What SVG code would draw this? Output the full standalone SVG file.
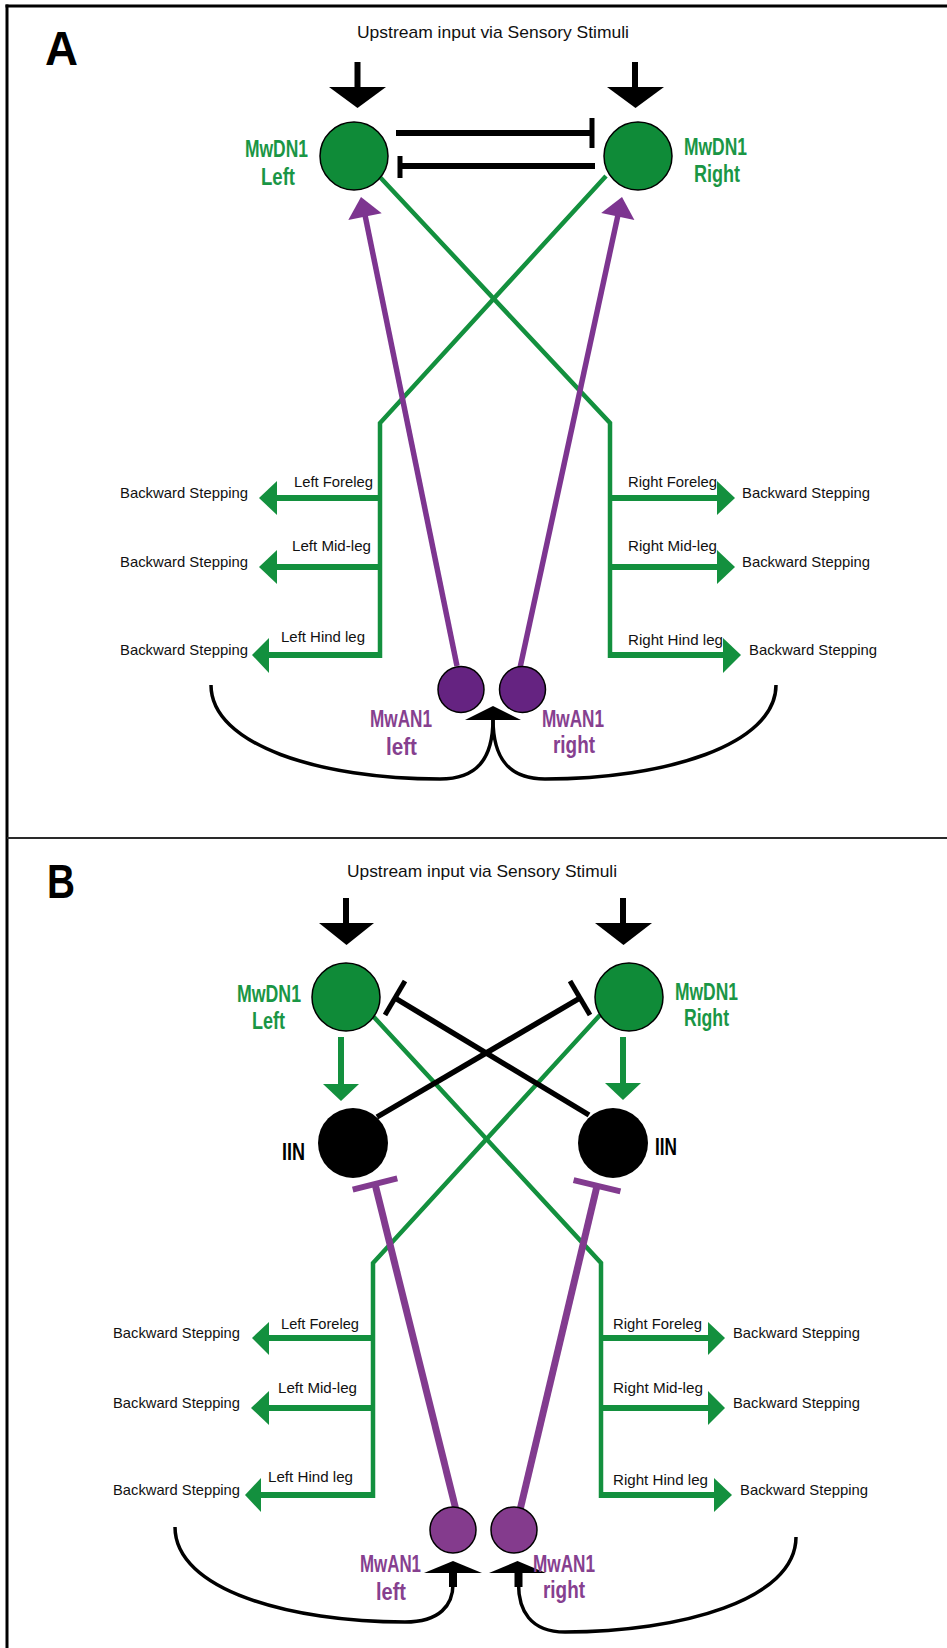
<svg xmlns="http://www.w3.org/2000/svg" width="947" height="1648" viewBox="0 0 947 1648">
<style>
.frame{stroke:#000;stroke-width:3;fill:none}
.div{stroke:#2a2a2a;stroke-width:2;fill:none}
.panel{font-family:"Liberation Sans",Arial,sans-serif;font-weight:bold;font-size:48px;fill:#000}
.title{font-family:"Liberation Sans",Arial,sans-serif;font-size:17px;fill:#111}
.small{font-family:"Liberation Sans",Arial,sans-serif;font-size:15px;fill:#111}
.gl{font-family:"Liberation Sans",Arial,sans-serif;font-weight:bold;font-size:24px;fill:#1a9645}
.pl{font-family:"Liberation Sans",Arial,sans-serif;font-weight:bold;font-size:24px;fill:#86408f}
.il{font-family:"Liberation Sans",Arial,sans-serif;font-weight:bold;font-size:24px;fill:#000}
.gline{stroke:#13903e;stroke-width:4.5;fill:none;stroke-linejoin:miter}
.gshaft{stroke:#13903e;stroke-width:6;fill:none}
.ghead{fill:#13903e}
.blk{fill:#000}
.bline{stroke:#000;stroke-width:6;fill:none}
.bcurve{stroke:#000;stroke-width:3.5;fill:none}
.pA{stroke:#7d3590;stroke-width:5.5;fill:none}
.pB{stroke:#823b8f;stroke-width:7;fill:none}
.pheadA{fill:#7d3590}
.dn{fill:#0f8b38;stroke:#000;stroke-width:1.5}
.anA{fill:#652381;stroke:#000;stroke-width:1.5}
.anB{fill:#843b8d;stroke:#000;stroke-width:1.5}
.iin{fill:#000}
</style>

<!-- frame -->
<g id="frame">
<line class="frame" x1="5.5" y1="6" x2="947" y2="6"/>
<line class="frame" x1="7" y1="4.5" x2="7" y2="1648"/>
<line class="div" x1="7" y1="838" x2="947" y2="838"/>
</g>

<!-- ================= PANEL A ================= -->
<g id="panelA-labels">
<text class="panel" x="45" y="65" textLength="33" lengthAdjust="spacingAndGlyphs">A</text>
<text class="title" x="493" y="38" text-anchor="middle" textLength="272" lengthAdjust="spacingAndGlyphs">Upstream input via Sensory Stimuli</text>
</g>

<g id="connectorsA">
<!-- upstream arrows -->
<rect class="blk" x="354.5" y="62" width="6" height="27"/>
<polygon class="blk" points="329,87 386,87 357.5,108"/>
<rect class="blk" x="632" y="62" width="6" height="27"/>
<polygon class="blk" points="607,87 664,87 635.5,108"/>
<!-- mutual inhibition -->
<line class="bline" x1="396" y1="133" x2="592" y2="133"/>
<line class="bline" x1="592" y1="118" x2="592" y2="148" style="stroke-width:5"/>
<line class="bline" x1="595" y1="166" x2="400" y2="166"/>
<line class="bline" x1="400" y1="156" x2="400" y2="178" style="stroke-width:5"/>
<!-- green projections -->
<path class="gline" d="M378,175 L610,423 L610,658"/>
<path class="gline" d="M606,176 L380,423 L380,658"/>
<!-- left branches -->
<line class="gshaft" x1="382" y1="498" x2="276" y2="498"/>
<polygon class="ghead" points="277,481 277,515 259,498"/>
<line class="gshaft" x1="382" y1="567" x2="276" y2="567"/>
<polygon class="ghead" points="277,550 277,584 259,567"/>
<line class="gshaft" x1="382" y1="655" x2="268" y2="655"/>
<polygon class="ghead" points="269,638 269,673 252,655"/>
<!-- right branches -->
<line class="gshaft" x1="608" y1="498" x2="718" y2="498"/>
<polygon class="ghead" points="717,481 717,515 735,498"/>
<line class="gshaft" x1="608" y1="567" x2="718" y2="567"/>
<polygon class="ghead" points="717,550 717,584 735,567"/>
<line class="gshaft" x1="608" y1="655" x2="724" y2="655"/>
<polygon class="ghead" points="723,638 723,673 741,655"/>
<!-- MwAN1 ascending -->
<line class="pA" x1="457" y1="666" x2="365" y2="215"/>
<polygon class="pheadA" points="361,197 381.7,213.2 348.3,220"/>
<line class="pA" x1="520" y1="668" x2="618" y2="215"/>
<polygon class="pheadA" points="622,197 634.4,220.1 601.2,212.9"/>
<!-- feedback curves -->
<path class="bcurve" d="M211,685 C211,745 320,779 440,779 C476,779 493,760 493,719"/>
<path class="bcurve" d="M776,685 C776,745 665,779 545,779 C510,779 493,760 493,719"/>
<polygon class="blk" points="465,720 521,720 493,706"/>
</g>

<g id="nodeA-MwDN1-left">
<circle class="dn" cx="354" cy="156" r="34"/>
<text class="gl" x="276.5" y="157" text-anchor="middle" textLength="63" lengthAdjust="spacingAndGlyphs">MwDN1</text>
<text class="gl" x="278" y="185" text-anchor="middle" textLength="34" lengthAdjust="spacingAndGlyphs">Left</text>
</g>
<g id="nodeA-MwDN1-right">
<circle class="dn" cx="638" cy="156" r="34"/>
<text class="gl" x="715.5" y="155" text-anchor="middle" textLength="63" lengthAdjust="spacingAndGlyphs">MwDN1</text>
<text class="gl" x="717" y="182" text-anchor="middle" textLength="46" lengthAdjust="spacingAndGlyphs">Right</text>
</g>
<g id="nodeA-MwAN1-left">
<circle class="anA" cx="461" cy="689.5" r="23"/>
<text class="pl" x="401" y="727" text-anchor="middle" textLength="62" lengthAdjust="spacingAndGlyphs">MwAN1</text>
<text class="pl" x="401.5" y="755" text-anchor="middle" textLength="31" lengthAdjust="spacingAndGlyphs">left</text>
</g>
<g id="nodeA-MwAN1-right">
<circle class="anA" cx="522.5" cy="689.5" r="23"/>
<text class="pl" x="573" y="727" text-anchor="middle" textLength="62" lengthAdjust="spacingAndGlyphs">MwAN1</text>
<text class="pl" x="574" y="753" text-anchor="middle" textLength="42" lengthAdjust="spacingAndGlyphs">right</text>
</g>
<g id="labelsA-legs">
<text class="small" x="248" y="498" text-anchor="end" textLength="128" lengthAdjust="spacingAndGlyphs">Backward Stepping</text>
<text class="small" x="248" y="567" text-anchor="end" textLength="128" lengthAdjust="spacingAndGlyphs">Backward Stepping</text>
<text class="small" x="248" y="655" text-anchor="end" textLength="128" lengthAdjust="spacingAndGlyphs">Backward Stepping</text>
<text class="small" x="373" y="487" text-anchor="end" textLength="79" lengthAdjust="spacingAndGlyphs">Left Foreleg</text>
<text class="small" x="371" y="551" text-anchor="end" textLength="79" lengthAdjust="spacingAndGlyphs">Left Mid-leg</text>
<text class="small" x="365" y="642" text-anchor="end" textLength="84" lengthAdjust="spacingAndGlyphs">Left Hind leg</text>
<text class="small" x="628" y="487" textLength="89" lengthAdjust="spacingAndGlyphs">Right Foreleg</text>
<text class="small" x="628" y="551" textLength="89" lengthAdjust="spacingAndGlyphs">Right Mid-leg</text>
<text class="small" x="628" y="645" textLength="95" lengthAdjust="spacingAndGlyphs">Right Hind leg</text>
<text class="small" x="742" y="498" textLength="128" lengthAdjust="spacingAndGlyphs">Backward Stepping</text>
<text class="small" x="742" y="567" textLength="128" lengthAdjust="spacingAndGlyphs">Backward Stepping</text>
<text class="small" x="749" y="655" textLength="128" lengthAdjust="spacingAndGlyphs">Backward Stepping</text>
</g>

<!-- ================= PANEL B ================= -->
<g id="panelB-labels">
<text class="panel" x="47" y="898" textLength="28" lengthAdjust="spacingAndGlyphs">B</text>
<text class="title" x="482" y="877" text-anchor="middle" textLength="270" lengthAdjust="spacingAndGlyphs">Upstream input via Sensory Stimuli</text>
</g>

<g id="connectorsB">
<!-- upstream arrows -->
<rect class="blk" x="343" y="898" width="6" height="26"/>
<polygon class="blk" points="319,923 374,923 346.5,945"/>
<rect class="blk" x="620" y="898" width="6" height="26"/>
<polygon class="blk" points="595,923 652,923 623.5,945"/>
<!-- MwDN1 -> IIN -->
<line class="gshaft" x1="341" y1="1037" x2="341" y2="1086"/>
<polygon class="ghead" points="323,1084 359,1084 341,1101"/>
<line class="gshaft" x1="623" y1="1037" x2="623" y2="1086"/>
<polygon class="ghead" points="605,1083 641,1083 623,1100"/>
<!-- green projections -->
<path class="gline" d="M372,1015 L601,1263 L601,1498"/>
<path class="gline" d="M600,1015 L373,1263 L373,1498"/>
<!-- IIN crossed inhibition -->
<line class="bline" style="stroke-width:5.5" x1="377" y1="1117" x2="580" y2="998"/>
<line class="bline" style="stroke-width:5" x1="570" y1="981" x2="590" y2="1015"/>
<line class="bline" style="stroke-width:5.5" x1="589" y1="1115" x2="395" y2="998"/>
<line class="bline" style="stroke-width:5" x1="405" y1="981" x2="385" y2="1015"/>
<!-- left branches -->
<line class="gshaft" x1="375" y1="1338" x2="268" y2="1338"/>
<polygon class="ghead" points="269,1322 269,1355 252,1338"/>
<line class="gshaft" x1="375" y1="1408" x2="268" y2="1408"/>
<polygon class="ghead" points="269,1391 269,1425 251,1408"/>
<line class="gshaft" x1="375" y1="1495" x2="260" y2="1495"/>
<polygon class="ghead" points="261,1478 261,1512 245,1495"/>
<!-- right branches -->
<line class="gshaft" x1="599" y1="1338" x2="709" y2="1338"/>
<polygon class="ghead" points="708,1322 708,1355 725,1338"/>
<line class="gshaft" x1="599" y1="1408" x2="709" y2="1408"/>
<polygon class="ghead" points="708,1391 708,1425 725,1408"/>
<line class="gshaft" x1="599" y1="1495" x2="715" y2="1495"/>
<polygon class="ghead" points="714,1478 714,1512 732,1495"/>
<!-- MwAN1 -> IIN inhibition -->
<line class="pB" x1="456" y1="1510" x2="375" y2="1184"/>
<line class="pB" style="stroke-width:6" x1="352.7" y1="1189.6" x2="397.3" y2="1178.4"/>
<line class="pB" x1="520" y1="1510" x2="597" y2="1186"/>
<line class="pB" style="stroke-width:6" x1="573.6" y1="1180.1" x2="620.4" y2="1191.3"/>
<!-- feedback curves -->
<path class="bcurve" d="M175,1527 C175,1590 290,1622 405,1622 C440,1622 453,1605 453,1584"/>
<rect class="blk" x="449" y="1572" width="8" height="15"/>
<polygon class="blk" points="424,1573 482,1573 453,1561"/>
<path class="bcurve" d="M796,1537 C796,1600 680,1632 565,1632 C530,1632 518.5,1610 518.5,1584"/>
<rect class="blk" x="514.5" y="1572" width="8" height="15"/>
<polygon class="blk" points="489,1573 546,1573 517.5,1561"/>
</g>

<g id="nodeB-MwDN1-left">
<circle class="dn" cx="346" cy="997" r="34"/>
<text class="gl" x="269" y="1002" text-anchor="middle" textLength="64" lengthAdjust="spacingAndGlyphs">MwDN1</text>
<text class="gl" x="268.5" y="1029" text-anchor="middle" textLength="33" lengthAdjust="spacingAndGlyphs">Left</text>
</g>
<g id="nodeB-MwDN1-right">
<circle class="dn" cx="629" cy="997" r="34"/>
<text class="gl" x="706.5" y="1000" text-anchor="middle" textLength="63" lengthAdjust="spacingAndGlyphs">MwDN1</text>
<text class="gl" x="706.5" y="1026" text-anchor="middle" textLength="45" lengthAdjust="spacingAndGlyphs">Right</text>
</g>
<g id="nodeB-IIN-left">
<circle class="iin" cx="353" cy="1143" r="35"/>
<text class="il" x="293.5" y="1160" text-anchor="middle" textLength="23" lengthAdjust="spacingAndGlyphs">IIN</text>
</g>
<g id="nodeB-IIN-right">
<circle class="iin" cx="613" cy="1143" r="35"/>
<text class="il" x="666" y="1155" text-anchor="middle" textLength="22" lengthAdjust="spacingAndGlyphs">IIN</text>
</g>
<g id="nodeB-MwAN1-left">
<circle class="anB" cx="453" cy="1530" r="23"/>
<text class="pl" x="390.5" y="1572" text-anchor="middle" textLength="61" lengthAdjust="spacingAndGlyphs">MwAN1</text>
<text class="pl" x="391" y="1600" text-anchor="middle" textLength="30" lengthAdjust="spacingAndGlyphs">left</text>
</g>
<g id="nodeB-MwAN1-right">
<circle class="anB" cx="514" cy="1530" r="23"/>
<text class="pl" x="564" y="1572" text-anchor="middle" textLength="62" lengthAdjust="spacingAndGlyphs">MwAN1</text>
<text class="pl" x="564" y="1598" text-anchor="middle" textLength="42" lengthAdjust="spacingAndGlyphs">right</text>
</g>
<g id="labelsB-legs">
<text class="small" x="240" y="1338" text-anchor="end" textLength="127" lengthAdjust="spacingAndGlyphs">Backward Stepping</text>
<text class="small" x="240" y="1408" text-anchor="end" textLength="127" lengthAdjust="spacingAndGlyphs">Backward Stepping</text>
<text class="small" x="240" y="1495" text-anchor="end" textLength="127" lengthAdjust="spacingAndGlyphs">Backward Stepping</text>
<text class="small" x="359" y="1329" text-anchor="end" textLength="78" lengthAdjust="spacingAndGlyphs">Left Foreleg</text>
<text class="small" x="357" y="1393" text-anchor="end" textLength="79" lengthAdjust="spacingAndGlyphs">Left Mid-leg</text>
<text class="small" x="353" y="1482" text-anchor="end" textLength="85" lengthAdjust="spacingAndGlyphs">Left Hind leg</text>
<text class="small" x="613" y="1329" textLength="89" lengthAdjust="spacingAndGlyphs">Right Foreleg</text>
<text class="small" x="613" y="1393" textLength="90" lengthAdjust="spacingAndGlyphs">Right Mid-leg</text>
<text class="small" x="613" y="1485" textLength="95" lengthAdjust="spacingAndGlyphs">Right Hind leg</text>
<text class="small" x="733" y="1338" textLength="127" lengthAdjust="spacingAndGlyphs">Backward Stepping</text>
<text class="small" x="733" y="1408" textLength="127" lengthAdjust="spacingAndGlyphs">Backward Stepping</text>
<text class="small" x="740" y="1495" textLength="128" lengthAdjust="spacingAndGlyphs">Backward Stepping</text>
</g>
</svg>
